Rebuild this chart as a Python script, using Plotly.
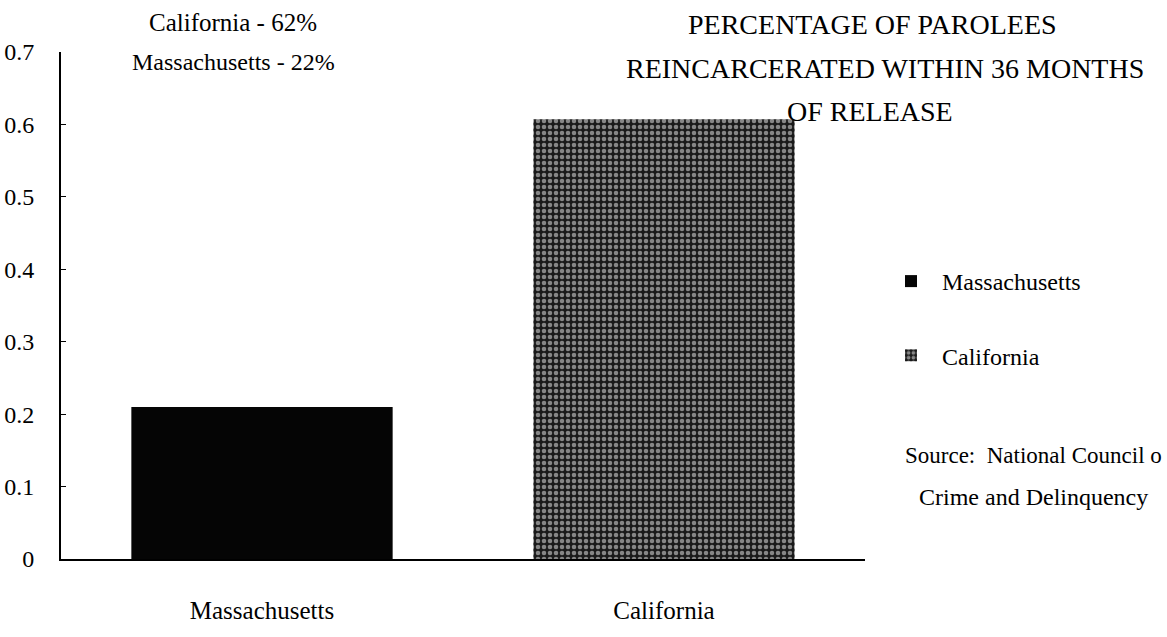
import plotly.graph_objects as go

categories = ["Massachusetts", "California"]
values = [0.21, 0.607]
series_names = ["Massachusetts", "California"]
y_ticks = [0, 0.1, 0.2, 0.3, 0.4, 0.5, 0.6, 0.7]
y_tick_labels = ["0", "0.1", "0.2", "0.3", "0.4", "0.5", "0.6", "0.7"]

FONT = "Liberation Serif"

fig = go.Figure()
fig.add_trace(go.Bar(
    x=[categories[0]], y=[values[0]], name=series_names[0],
    marker=dict(color="#050505", line=dict(width=0)),
    width=0.65, legendgroup="a",
))
fig.add_trace(go.Bar(
    x=[categories[1]], y=[values[1]], name=series_names[1],
    marker=dict(color="#1a1a1a", line=dict(width=0),
                pattern=dict(shape=".", fgcolor="#f2f2f2", bgcolor="#1a1a1a",
                             size=6, solidity=0.45)),
    width=0.65, legendgroup="b",
))

# body margin is removed in the page, so page px == figure px
W, H = 1167, 637
L, R, T, B = 61, 302, 52, 78
ph = H - T - B
pw = W - L - R

def ypaper(page_y):
    return (H - B - page_y) / ph

def xpaper(page_x):
    return (page_x - L) / pw

annos = [
    ("California - 62%", 233, 23, 25, "center"),
    ("Massachusetts - 22%", 233, 62, 24, "center"),
    ("PERCENTAGE OF PAROLEES", 872, 25, 28, "center"),
    ("REINCARCERATED WITHIN 36 MONTHS", 885, 69, 28, "center"),
    ("OF RELEASE", 870, 111, 28, "center"),
    ("Source:  National Council o", 1164, 455, 23, "right"),
    ("Crime and Delinquency", 1033, 497, 24, "center"),
]
annotations = []
for text, x, y, size, align in annos:
    annotations.append(dict(
        text=text, x=xpaper(x), y=ypaper(y), xref="paper", yref="paper",
        showarrow=False, xanchor=align,
        yanchor="middle", font=dict(family=FONT, size=size, color="black"),
    ))

fig.update_layout(
    width=W, height=H,
    margin=dict(l=L, r=R, t=T, b=B, pad=0, autoexpand=False),
    paper_bgcolor="white", plot_bgcolor="white",
    font=dict(family=FONT, color="black"),
    showlegend=True,
    legend=dict(x=xpaper(880), y=ypaper(259), xanchor="left", yanchor="top",
                font=dict(family=FONT, size=24, color="black"),
                tracegroupgap=40, traceorder="grouped", bgcolor="rgba(0,0,0,0)",
                itemwidth=52),
    bargap=0.35,
    annotations=annotations,
    xaxis=dict(range=[-0.5, 1.5], showline=True, linecolor="black", linewidth=1.5,
               showgrid=False, zeroline=False, ticks="", automargin=False,
               tickfont=dict(family=FONT, size=25, color="black"),
               ticklabelstandoff=28, fixedrange=True),
    yaxis=dict(range=[0, 0.7], showline=True, linecolor="black", linewidth=2,
               showgrid=False, zeroline=False, tickvals=y_ticks, ticktext=y_tick_labels,
               ticks="inside", ticklen=5, tickcolor="black", automargin=False,
               tickfont=dict(family=FONT, size=24, color="black"),
               ticklabelstandoff=20, fixedrange=True),
)

fig.write_html("out.html", config={"displayModeBar": False},
               post_script="document.body.style.margin='0';document.body.style.overflow='hidden';")
